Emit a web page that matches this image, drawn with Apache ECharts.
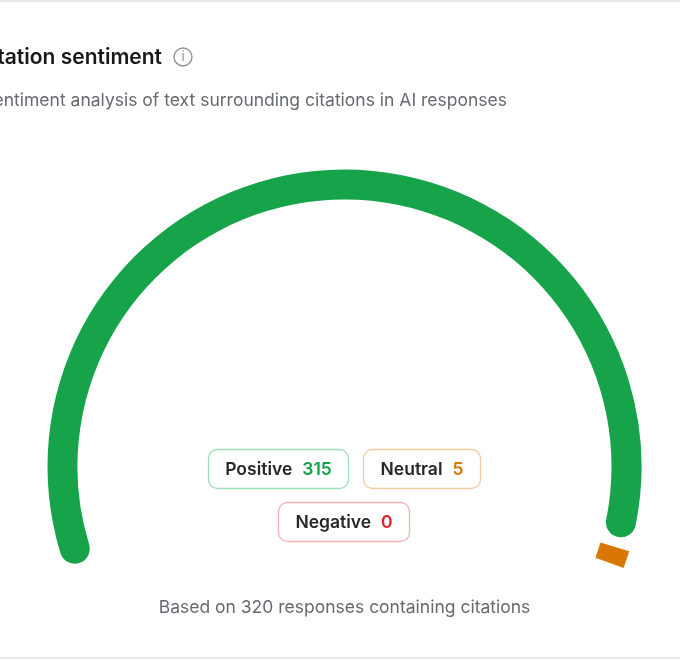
<!DOCTYPE html>
<html>
<head>
<meta charset="utf-8">
<style>html,body{margin:0;padding:0;background:#fff;overflow:hidden}#c{width:680px;height:660px}</style>
<script src="https://cdn.jsdelivr.net/npm/echarts@6/dist/echarts.min.js"></script>
</head>
<body>
<div id="c"></div>
<script>
const categories = ['Positive', 'Neutral', 'Negative'];
const values = [315, 5, 0];
const colors = ['#16a34a', '#d97706', '#dc2626'];
const chipBorders = ['#9fdfb8', '#f3cba0', '#f4b0b0'];
const titleText = 'Citation sentiment';
const subtitleText = 'Sentiment analysis of text surrounding citations in AI responses';
const footerText = 'Based on 320 responses containing citations';
const FONT = 'Inter,"Open Sans",sans-serif';

const chipBoxes = [[208, 449, 141, 40], [363, 449, 118, 40], [278, 502, 132, 40]];
const chart = echarts.init(document.getElementById('c'), null, {renderer: 'canvas'});

const chips = categories.map((name, i) => {
  const b = chipBoxes[i];
  return {
    type: 'group',
    children: [
      {type: 'rect', shape: {x: b[0] + .5, y: b[1] + .5, width: b[2] - 1, height: b[3] - 1, r: 9},
       style: {fill: '#fff', stroke: chipBorders[i], lineWidth: 1.3}},
      {type: 'text', x: b[0] + b[2] / 2, y: b[1] + b[3] / 2 + 1,
       style: {
         text: '{n|' + name + '}{v|' + values[i] + '}',
         align: 'center', verticalAlign: 'middle',
         rich: {
           n: {fontFamily: FONT, fontSize: 17.5, fontWeight: 600, fill: '#27272a', padding: [0, 10, 0, 0]},
           v: {fontFamily: FONT, fontSize: 17.5, fontWeight: 600, fill: colors[i]}
         }
       }}
    ]
  };
});

const gaugeBase = {
  type: 'pie',
  center: [344.5, 466.5],
  radius: [267, 297],
  silent: true,
  label: {show: false},
  labelLine: {show: false},
  stillShowZeroSum: false
};

chart.setOption({
  backgroundColor: '#fff',
  animation: false,
  title: [
    {text: titleText, left: 157, top: 42, textAlign: 'right',
     textStyle: {fontFamily: FONT, fontSize: 21, fontWeight: 600, color: '#18181b'}},
    {text: subtitleText, left: 502, top: 87, textAlign: 'right',
     textStyle: {fontFamily: FONT, fontSize: 17.5, fontWeight: 400, color: '#666a70'}}
  ],
  series: [
    Object.assign({}, gaugeBase, {
      startAngle: 201.2,
      endAngle: -21.5,
      padAngle: 2.4,
      data: categories.map((name, i) => ({
        name, value: values[i],
        itemStyle: {color: i === 0 ? colors[i] : 'transparent', borderRadius: i === 0 ? 15 : 0}
      }))
    }),
    Object.assign({}, gaugeBase, {
      startAngle: 200,
      endAngle: -20,
      data: categories.map((name, i) => ({
        name, value: values[i],
        itemStyle: {color: i === 0 ? 'transparent' : colors[i]}
      }))
    })
  ],
  graphic: [
    {type: 'rect', shape: {x: 0, y: 0, width: 680, height: 2}, style: {fill: '#e8e8e8'}},
    {type: 'rect', shape: {x: 0, y: 657, width: 680, height: 2}, style: {fill: '#e8e8e8'}},
    {type: 'circle', shape: {cx: 183, cy: 57, r: 9}, style: {fill: 'none', stroke: '#8f9398', lineWidth: 1.4}},
    {type: 'text', x: 183, y: 57, style: {text: 'i', fontFamily: FONT, fontSize: 13, fill: '#8f9398', align: 'center', verticalAlign: 'middle'}},
    ...chips,
    {type: 'text', x: 344.5, y: 608, style: {text: footerText, fontFamily: FONT, fontSize: 17.5, fill: '#666a70', align: 'center', verticalAlign: 'middle'}}
  ]
});
</script>
</body>
</html>
